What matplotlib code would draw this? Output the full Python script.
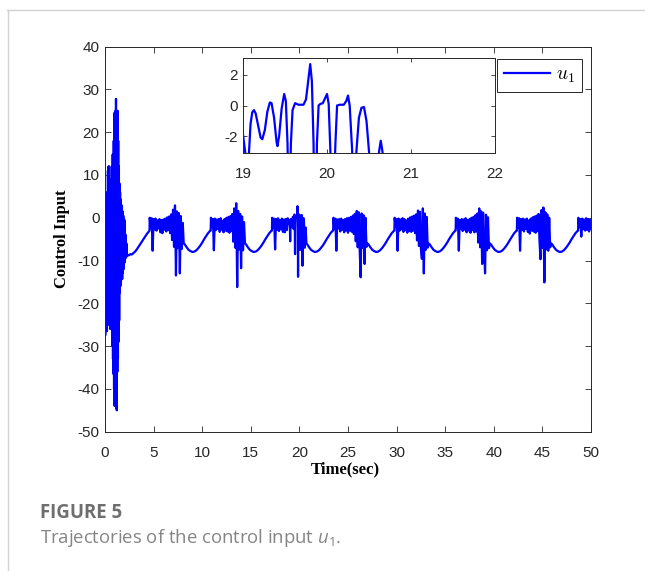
import numpy as np
import matplotlib.pyplot as plt
from matplotlib.font_manager import FontProperties
from matplotlib.lines import Line2D

plt.rcParams['axes.unicode_minus'] = False
plt.rcParams['font.family'] = ['Liberation Sans', 'DejaVu Sans']
plt.rcParams['mathtext.fontset'] = 'custom'
plt.rcParams['mathtext.rm'] = 'Open Sans'
plt.rcParams['mathtext.it'] = 'Open Sans:italic'

# start-up transient and first rise (0 - 4.6 s)
start_t = [0.00, 0.02, 0.05, 0.08, 0.11, 0.14, 0.17, 0.20, 0.24, 0.27, 0.30, 0.33,
           0.36, 0.40, 0.44, 0.47, 0.50, 0.53, 0.56, 0.59, 0.62, 0.65, 0.68, 0.71,
           0.74, 0.77, 0.79, 0.82, 0.85, 0.87, 0.90, 0.93, 0.96, 0.99, 1.02, 1.05,
           1.08, 1.11, 1.13, 1.16, 1.19, 1.21, 1.24, 1.27, 1.30, 1.33, 1.36, 1.39,
           1.43, 1.46, 1.49, 1.52, 1.55, 1.58, 1.61, 1.64, 1.67, 1.70, 1.74, 1.77,
           1.80, 1.84, 1.88, 1.92, 1.96, 2.00, 2.04, 2.08, 2.12, 2.16, 2.20, 2.25,
           2.30, 2.45, 2.60, 2.75, 2.90, 3.10, 3.30, 3.50, 3.70, 3.90, 4.10, 4.30,
           4.50, 4.58]
start_u = [0.0, -27.5, 3.0, -26.0, 5.0, -24.0, 2.0, -26.5, 6.0, -22.0, 11.0, -25.0,
           12.0, -21.0, 12.0, -24.0, 7.0, -26.0, 9.0, -22.5, 6.0, -20.0, 9.0, -24.0,
           12.0, -30.0, 14.8, -33.0, 11.0, -36.5, 18.0, -40.0, 24.5, -44.0, 20.0, -38.0,
           25.0, -42.0, 27.8, -44.5, 24.0, -45.0, 22.0, -36.0, 25.0, -33.0, 18.0, -29.0,
           12.0, -24.0, 8.0, -17.5, 6.0, -16.0, 4.3, -15.0, 3.0, -14.0, 2.8, -14.3,
           1.5, -12.8, 0.5, -12.0, -0.3, -10.5, -0.7, -9.6, -4.0, -9.2, -6.0, -9.0,
           -8.6, -8.8, -8.5, -8.6, -8.3, -7.9, -7.3, -6.6, -5.9, -5.2, -4.5, -3.8,
           -3.2, -3.0]

# periodic part: jump times, noisy bursts sampled every 0.1 s
cycle_start = [4.6, 10.9, 17.2, 23.5, 29.8, 36.1, 42.4, 48.7]
burst_step = 0.1
burst_1 = [0.0, -2.4, -0.1, -7.7, -0.3, -2.7, -0.2, -3.0, -0.6, -2.5, -0.3, -3.4,
           -0.5, -3.6, -0.4, -2.8, -0.2, -3.2, 0.1, -2.9, 0.3, -3.6, 0.8,
           -5.2, 1.9, -6.8, 2.9, -13.5, 1.5, -7.1, 1.1, -13.0, 0.4, -7.3, -1.2, -6.0]
burst_2 = [0.0, -2.2, -0.3, -7.6, -0.2, -2.9, -0.4, -2.6, -0.3, -3.3, -0.1, -2.8,
           -0.7, -3.4, -0.3, -3.0, 0.0, -3.2, 0.2, -3.5, 0.4, -3.1, 0.9,
           -5.6, 2.2, -7.0, 3.4, -16.2, 1.6, -7.4, 0.9, -11.8, 0.3, -7.6, -1.0, -6.0]
burst_3 = [0.0, -2.3, -0.2, -7.4, -0.3, -2.8, -0.1, -3.1, -0.5, -2.7, -0.2, -3.3,
           -0.4, -3.4, -0.3, -2.9, -0.1]
burst_4 = [0.0, -2.5, -0.2, -7.7, -0.4, -2.5, -0.3, -3.2, -0.2, -2.8, -0.5, -3.4,
           -0.3, -3.0, -0.1, -3.5, 0.0, -3.0, 0.2, -3.3, 0.5, -3.8, 0.9,
           -5.5, 1.6, -6.9, 1.3, -7.4, -13.9, 1.0, -7.0, 0.6, -10.8, 0.0, -6.8, -6.0]
burst_5 = [0.0, -2.1, -0.3, -7.7, -0.2, -3.0, -0.4, -2.7, -0.1, -3.3, -0.3, -2.9,
           -0.6, -3.5, -0.2, -3.1, 0.1, -3.3, 0.3, -3.0, 0.5, -3.6, 0.8,
           -5.3, 1.7, -6.6, 1.4, -7.2, -9.6, 2.2, -13.0, 1.0, -7.5, 0.2, -7.0, -6.0]
burst_6 = [0.0, -2.4, -0.2, -7.7, -0.5, -2.6, -0.3, -3.1, -0.4, -2.8, -0.1, -3.4,
           -0.5, -3.0, -0.3, -3.5, 0.0, -2.9, 0.2, -3.4, 0.6, -3.2, 1.0,
           -5.8, 2.2, -6.9, 1.5, -10.8, 1.2, -7.3, -13.0, 0.7, -7.6, 0.1, -7.1, -6.0]
burst_7 = [0.0, -2.3, -0.1, -7.7, -0.3, -2.8, -0.2, -3.2, -0.4, -2.6, -0.2, -3.3,
           -0.6, -3.7, -0.2, -3.0, 0.1, -3.2, 0.3, -3.5, 0.5, -3.1, 0.9,
           -5.4, -9.7, 1.8, -7.0, 2.4, -15.1, 1.3, -7.4, 0.8, -7.7, 0.0, -6.9, -6.0]
burst_8 = [0.0, -2.2, -0.3, -4.4, -0.2, -2.7, -0.4, -3.0, -0.1, -2.8, -0.3, -3.2,
           -0.5, -2.6]

# fine detail of the third burst (the region shown in the inset)
zoom_t = [18.85, 18.95, 19.00, 19.03, 19.05, 19.07, 19.09, 19.11, 19.13, 19.15,
          19.18, 19.21, 19.23, 19.26, 19.29, 19.32, 19.34, 19.37, 19.40, 19.41,
          19.43, 19.46, 19.49, 19.51, 19.53, 19.55, 19.57, 19.59, 19.62, 19.66,
          19.72, 19.75, 19.78, 19.80, 19.82, 19.84, 19.86, 19.88, 19.90, 19.92,
          19.95, 19.98, 20.00, 20.02, 20.04, 20.07, 20.10, 20.12, 20.15, 20.20,
          20.23, 20.25, 20.27, 20.30, 20.32, 20.35, 20.38, 20.41, 20.44, 20.47,
          20.50, 20.55, 20.62, 20.64, 20.66, 20.72]
zoom_u = [-0.3, -1.0, -1.9, -3.2, -5.5, -3.2, -1.2, -0.45, -0.3, -0.5,
          -1.3, -2.1, -2.2, -1.6, -0.4, 0.2, 0.15, -0.8, -2.4, -2.65,
          -2.0, -0.2, 0.75, 0.3, -2.5, -8.5, -2.5, -0.3, 0.15, 0.05,
          0.05, 0.4, 1.8, 2.7, 1.6, -2.5, -13.8, -2.5, 0.0, 0.1,
          0.15, 0.5, 0.75, 0.1, -3.0, -7.5, -2.5, 0.0, 0.05, 0.05,
          0.3, 0.65, 0.0, -3.0, -11.2, -3.0, -0.8, -0.15, -0.1, -1.0,
          -3.0, -7.0, -3.0, -2.3, -3.0, -6.0]

# smooth trough after each burst (time after the jump)
trough_dt = [3.6, 3.8, 4.0, 4.2, 4.4, 4.6, 4.8, 5.0, 5.2, 5.4, 5.6, 5.8, 6.0, 6.2, 6.27]
trough_u = [-6.2, -6.9, -7.5, -7.8, -8.0, -7.9, -7.6, -7.1, -6.5, -5.8, -5.0, -4.3,
            -3.6, -3.1, -3.0]

bursts = [burst_1, burst_2, burst_3, burst_4, burst_5, burst_6, burst_7, burst_8]

t_parts = [np.array(start_t)]
u_parts = [np.array(start_u)]
for k, (t0, burst) in enumerate(zip(cycle_start, bursts)):
    t_parts.append(t0 + burst_step * np.arange(len(burst)))
    u_parts.append(np.array(burst))
    if k == 2:
        t_parts.append(np.array(zoom_t))
        u_parts.append(np.array(zoom_u))
    if k < len(cycle_start) - 1:
        t_parts.append(t0 + np.array(trough_dt))
        u_parts.append(np.array(trough_u))
t = np.concatenate(t_parts)
u = np.concatenate(u_parts)

axis_col = '#262626'

fig = plt.figure(figsize=(6.45, 5.71), dpi=100)

ax = fig.add_axes([0.1628, 0.2440, 0.7535, 0.6743])
ax.plot(t, u, color='blue', lw=1.6, label='$u_1$')
ax.set_xlim(0, 50)
ax.set_ylim(-50, 40)
ax.set_xticks(np.arange(0, 51, 5))
ax.set_yticks(np.arange(-50, 41, 10))
ax.tick_params(direction='in', top=True, right=True, length=4, width=0.6,
               labelsize=11, colors=axis_col)
ax.tick_params(axis='x', pad=10)
ax.tick_params(axis='y', pad=4)
for sp in ax.spines.values():
    sp.set_color(axis_col)
    sp.set_linewidth(0.7)
ax.set_xlabel('Time(sec)', fontfamily='Liberation Serif', fontweight='bold',
              fontsize=12, color='k')
ax.set_ylabel('Control Input', fontfamily='Liberation Serif', fontweight='bold',
              fontsize=12, color='k', va='center')
ax.xaxis.set_label_coords(0.494, -0.078)
ax.yaxis.set_label_coords(-0.088, 0.5)

leg = ax.legend(loc='upper right', bbox_to_anchor=(582 / 645, 1 - 59 / 571),
                bbox_transform=fig.transFigure, borderaxespad=0, fancybox=False,
                edgecolor=axis_col, framealpha=1, handlelength=2.4,
                handletextpad=0.3, borderpad=0.35,
                prop=FontProperties(size=14, math_fontfamily='cm'))
leg.get_frame().set_linewidth(0.7)

# inset zoom
axin = fig.add_axes([243 / 645, 1 - 153 / 571, 252 / 645, 95 / 571])
axin.plot(t, u, color='blue', lw=1.6)
axin.set_xlim(19, 22)
axin.set_ylim(-3.1, 3.1)
axin.set_xticks([19, 20, 21, 22])
axin.set_yticks([-2, 0, 2])
axin.tick_params(direction='in', top=True, right=True, length=3, width=0.6,
                 labelsize=11, colors=axis_col)
axin.tick_params(axis='x', pad=10)
axin.tick_params(axis='y', pad=4)
for sp in axin.spines.values():
    sp.set_color(axis_col)
    sp.set_linewidth(0.7)

# caption and page frame
fig.text(40 / 645, 1 - 513 / 571, 'FIGURE 5', fontfamily='Open Sans',
         fontweight='bold', fontsize=13.4, color='#6e6e6e', va='center')
fig.text(40 / 645, 1 - 538 / 571, 'Trajectories of the control input $u_1$.',
         fontfamily='Open Sans', fontsize=13.3, color='#858585', va='center',
         math_fontfamily='custom')
fig.add_artist(Line2D([7 / 645, 1], [1 - 10 / 571, 1 - 10 / 571],
                      transform=fig.transFigure, color='#d2d2d2', lw=1))
fig.add_artist(Line2D([8 / 645, 8 / 645], [0, 1 - 10 / 571],
                      transform=fig.transFigure, color='#d2d2d2', lw=1))

fig.savefig('out.png', dpi=100)
